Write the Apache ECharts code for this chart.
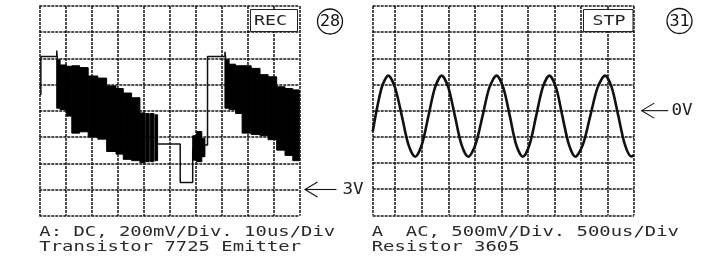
<!DOCTYPE html>
<html><head><meta charset="utf-8">
<script src="https://cdn.jsdelivr.net/npm/echarts@6/dist/echarts.min.js"></script>
<style>html,body{margin:0;padding:0;background:#fff}#c{width:707px;height:268px}</style>
</head><body><div id="c"></div>
<script>
// ---------- Left scope (28): DC, 200mV/Div, 10us/Div (units = divisions) ----------
const leftTraceStart = [[0.06,4.6],[0.06,6.07],[0.67,6.07],[0.67,6.3],[0.70,5.9]];
const leftTraceMid   = [[4.52,2.74],[5.42,2.74],[5.42,1.27],[5.90,1.27],[5.90,2.5],[5.95,2.6]];
const leftTraceEnd   = [[6.35,2.70],[6.47,2.70],[6.47,6.07],[7.14,6.07],[7.14,6.25],[7.18,5.9]];
// noise envelopes: [xStart, xEnd, top, bottom]
const leftNoise = [
  [0.67,0.80,5.95,4.10],[0.80,1.05,5.75,4.05],[1.05,1.25,5.70,3.80],
  [1.25,1.55,5.72,3.15],[1.55,1.88,5.65,3.20],
  [1.88,2.25,5.33,3.00],[2.25,2.59,5.25,2.92],
  [2.59,2.95,4.95,2.45],[2.95,3.23,4.85,2.35],
  [3.23,3.55,4.68,2.15],[3.55,3.87,4.50,2.10],
  [3.87,4.07,3.92,2.02],[4.10,4.23,3.90,2.06],[4.28,4.41,3.90,2.06],[4.45,4.55,3.85,2.10],
  [5.90,6.05,3.05,2.12],[6.05,6.25,3.21,2.06],[6.25,6.37,2.95,2.25],
  [7.14,7.30,5.95,4.10],[7.30,7.55,5.78,4.05],[7.55,7.80,5.72,3.90],
  [7.80,8.15,5.72,3.15],[8.15,8.49,5.62,3.10],
  [8.49,8.80,5.38,3.05],[8.80,9.13,5.30,2.90],
  [9.13,9.45,4.92,2.50],[9.45,9.75,4.85,2.30],[9.75,10.0,4.80,2.10]
];
// ---------- Right scope (31): AC, 500mV/Div, 500us/Div ----------
const sineX = [0.15,0.49,0.74,0.99,1.25,1.50,1.75,2.00,2.25,2.50,2.75,3.00,3.25,3.50,3.75,4.02,4.29,4.55,4.82,5.07,
               5.32,5.56,5.81,6.06,6.31,6.56,6.81,7.06,7.30,7.55,7.79,8.07,8.35,8.63,8.91,9.16,9.41,9.66,9.90,10.0];
const sineY = [3.19,4.89,5.34,4.89,3.79,2.69,2.24,2.69,3.79,4.89,5.34,4.89,3.79,2.69,2.24,2.69,3.79,4.89,5.34,4.89,
               3.79,2.69,2.24,2.69,3.79,4.89,5.34,4.89,3.79,2.69,2.24,2.69,3.79,4.89,5.34,4.89,3.79,2.69,2.25,2.30];
// labels
const leftCaption1 = 'A: DC, 200mV/Div. 10us/Div';
const leftCaption2 = 'Transistor 7725 Emitter';
const rightCaption1 = 'A  AC, 500mV/Div. 500us/Div';
const rightCaption2 = 'Resistor 3605';
const leftMode = 'REC', rightMode = 'STP';
const leftTag = '28', rightTag = '31';
const leftRef = {label:'3V', level:1};
const rightRef = {label:'0V', level:4};

const ink = '#111';
const gridLine = {show:true, lineStyle:{color:'#151515', width:1.5, type:[3,1]}};
const hidden = {axisLine:{show:false}, axisTick:{show:false}, axisLabel:{show:false}, splitLine:gridLine};

const chart = echarts.init(document.getElementById('c'), null, {renderer:'canvas'});
const lineSeries = (data, xi, w) => ({type:'line', xAxisIndex:xi, yAxisIndex:xi, data, showSymbol:false, symbol:'none',
  lineStyle:{color:ink, width:w}, animation:false, z:3});
chart.setOption({
  animation:false,
  grid:[{left:39.3, top:6, width:260, height:209.7},{left:372.7, top:6, width:261.3, height:209.3}],
  xAxis:[
    Object.assign({gridIndex:0, type:'value', min:0, max:10, interval:1}, hidden),
    Object.assign({gridIndex:1, type:'value', min:0.15, max:10, minInterval:1, maxInterval:1}, hidden)
  ],
  yAxis:[
    Object.assign({gridIndex:0, type:'value', min:0, max:8, interval:1}, hidden),
    Object.assign({gridIndex:1, type:'value', min:0, max:8, interval:1}, hidden)
  ],
  series:[
    lineSeries(leftTraceStart,0,1.5),
    lineSeries(leftTraceMid,0,1.5),
    lineSeries(leftTraceEnd,0,1.5),
    {type:'custom', xAxisIndex:0, yAxisIndex:0, data:leftNoise, encode:{x:[0,1], y:[2,3]}, z:4,
     renderItem:function(params, api){
       const p0 = api.coord([api.value(0), api.value(2)]);
       const p1 = api.coord([api.value(1), api.value(3)]);
       return {type:'rect', shape:{x:p0[0], y:p0[1], width:p1[0]-p0[0], height:p1[1]-p0[1]},
               style:{fill:'#000', stroke:'#000', lineWidth:1}};
     }},
    Object.assign(lineSeries(sineX.map((x,i)=>[x, sineY[i]]),1,2.6), {smooth:0.3})
  ]
});

function txt(x, y, text, size, sx, align, fill){
  return {type:'text', x, y, scaleX:sx, z:20,
    style:{text, font: size+'px "DejaVu Sans Mono"', fill:fill||ink, align:align||'left', verticalAlign:'middle',
      textAlign:align||'left', textVerticalAlign:'middle'}};
}
function arrow(gridIdx, ref, gapTip, len, textX){
  const p = chart.convertToPixel({gridIndex:gridIdx}, [10, ref.level]);
  const tip = p[0] + gapTip, y = p[1];
  return [
    {type:'polyline', z:20, shape:{points:[[tip+12.5,y-7.5],[tip,y],[tip+12.5,y+7.5]]}, style:{stroke:ink, lineWidth:1.1, fill:null}},
    {type:'line', z:20, shape:{x1:tip, y1:y, x2:tip+len, y2:y}, style:{stroke:ink, lineWidth:1.1}},
    txt(textX, y, ref.label, 16, 1.1, 'left', '#222')
  ];
}
const g = [];
// mode boxes
g.push({type:'rect', z:15, shape:{x:250.5, y:9.5, width:47, height:22}, style:{fill:'#fff', stroke:'#222', lineWidth:1}});
g.push(txt(254, 21.5, leftMode, 14, 1.3, 'left', '#222'));
g.push({type:'rect', z:15, shape:{x:583.5, y:9.5, width:49.5, height:22}, style:{fill:'#fff', stroke:'#222', lineWidth:1}});
g.push(txt(592.5, 21.5, rightMode, 14, 1.3, 'left', '#222'));
// circled tags
g.push({type:'circle', z:20, shape:{cx:330, cy:21.5, r:12.5}, style:{fill:null, stroke:ink, lineWidth:1.3}});
g.push(txt(330, 22, leftTag, 16, 1.05, 'center'));
g.push({type:'circle', z:20, shape:{cx:679.5, cy:21, r:12.5}, style:{fill:null, stroke:ink, lineWidth:1.3}});
g.push(txt(679.5, 21.5, rightTag, 16, 1.05, 'center'));
// captions
g.push(txt(39.3, 232, leftCaption1, 14, 1.35, 'left', '#2a2a2a'));
g.push(txt(39.3, 247.7, leftCaption2, 14, 1.35, 'left', '#2a2a2a'));
g.push(txt(371.7, 232, rightCaption1, 14, 1.35, 'left', '#2a2a2a'));
g.push(txt(371.7, 247.7, rightCaption2, 14, 1.35, 'left', '#2a2a2a'));
// reference arrows
arrow(0, leftRef, 5.7, 31.5, 342.5).forEach(e=>g.push(e));
arrow(1, rightRef, 7.7, 26.5, 671.5).forEach(e=>g.push(e));
chart.setOption({graphic:g});
</script>
</body></html>
